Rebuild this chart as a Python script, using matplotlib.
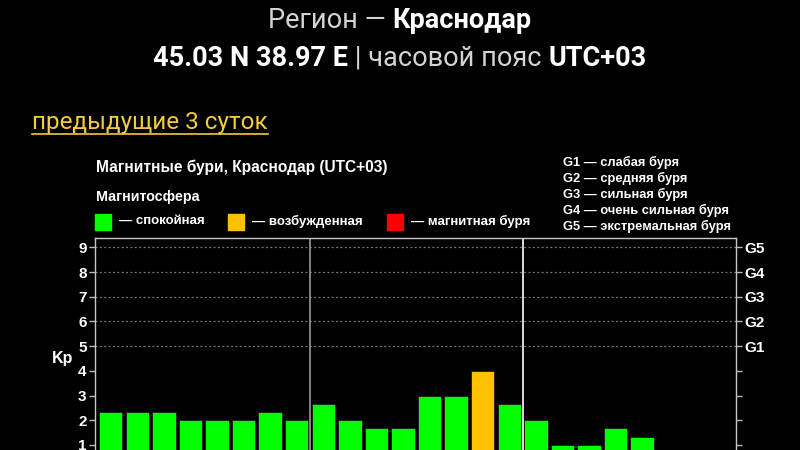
import matplotlib
matplotlib.use('Agg')
import matplotlib.pyplot as plt

# Kp по 3-часовым интервалам, 3 суток
kp = [2.33, 2.33, 2.33, 2.0, 2.0, 2.0, 2.33, 2.0,
      2.67, 2.0, 1.67, 1.67, 3.0, 3.0, 4.0, 2.67,
      2.0, 1.0, 1.0, 1.67, 1.33]
kp_ticks = [1, 2, 3, 4, 5, 6, 7, 8, 9]
g_ticks = [5, 6, 7, 8, 9]
g_labels = ['G1', 'G2', 'G3', 'G4', 'G5']
g_text = ['G1 — слабая буря', 'G2 — средняя буря', 'G3 — сильная буря',
          'G4 — очень сильная буря', 'G5 — экстремальная буря']
legend_labels = ['— спокойная', '— возбужденная', '— магнитная буря']
legend_colors = ['#00ff00', '#ffc000', '#ff0000']


def color_for(v):
    if v < 4:
        return legend_colors[0]
    if v < 5:
        return legend_colors[1]
    return legend_colors[2]


W, H = 800, 450
fig = plt.figure(figsize=(8, 4.5), dpi=100, facecolor='black')
renderer = fig.canvas.get_renderer()


def px(x, y):
    return x / W, 1 - y / H


def rich_line(parts, y, fontsize, family):
    # parts: (text, weight, color); центрируем всю строку
    texts = []
    for s, w, c in parts:
        t = fig.text(0, 0, s, fontsize=fontsize, fontweight=w, color=c,
                     family=family, va='center', ha='left')
        texts.append(t)
    widths = [t.get_window_extent(renderer).width for t in texts]
    x = (W - sum(widths)) / 2
    for t, wd in zip(texts, widths):
        t.set_position(px(x, y))
        x += wd


rich_line([('Регион — ', 'normal', '#d4d4d4'), ('Краснодар', 'bold', 'white')],
          21, 19.5, 'Roboto')
rich_line([('45.03 N 38.97 E', 'bold', 'white'), (' | часовой пояс ', 'normal', '#d4d4d4'),
           ('UTC+03', 'bold', 'white')], 58, 19.5, 'Roboto')

link = fig.text(*px(32, 122), 'предыдущие 3 суток', fontsize=17.5, color='#f0cd3c',
                family='Roboto', va='center', ha='left')
bb = link.get_window_extent(renderer)
fig.add_artist(plt.Line2D([bb.x0 / W, bb.x1 / W], [1 - 134 / H] * 2,
                          color='#f0cd3c', lw=1.2))

font = 'Liberation Sans'
fig.text(*px(96, 167), 'Магнитные бури, Краснодар (UTC+03)', fontsize=11.2,
         fontweight='bold', color='white', family=font, va='center')
fig.text(*px(96, 197), 'Магнитосфера', fontsize=10.3, fontweight='bold',
         color='white', family=font, va='center')
for xs, lab, col in zip([95, 228, 387], legend_labels, legend_colors):
    fig.add_artist(plt.Rectangle(px(xs, 230), 16 / W, 16 / H, color=col,
                                 transform=fig.transFigure))
    fig.text(*px(xs + 24, 221), lab, fontsize=9.5, fontweight='bold',
             color='white', family=font, va='center')
for i, s in enumerate(g_text):
    fig.text(*px(563, 162 + 16 * i), s, fontsize=9.3, fontweight='bold',
             color='white', family=font, va='center')

# оси: низ уходит за край картинки
ax = fig.add_axes([95 / W, 1 - 469.7 / H, 641 / W, (469.7 - 238) / H])
ax.set_facecolor('black')
x = list(range(len(kp)))
ax.bar(x, kp, width=0.88, color=[color_for(v) for v in kp],
       edgecolor='#1a1a1a', linewidth=0.6, zorder=3)
ax.set_xlim(-0.59, 23.53)
ax.set_ylim(0, 9.38)
for g in g_ticks:
    ax.axhline(g, color='#7a7a7a', lw=0.9, ls=(0, (1.5, 2)), zorder=1)
ax.axvline(7.5, color='#9a9a9a', lw=1.2, zorder=2)
ax.axvline(15.5, color='white', lw=1.2, zorder=2)

ax.set_xticks([])
ax.set_yticks(kp_ticks)
ax.set_yticklabels([str(k) for k in kp_ticks], fontsize=11, fontweight='bold',
                   color='white', family=font)
ax.tick_params(axis='y', colors='#bbbbbb', length=4, width=1, pad=2, labelcolor='white')
for s in ax.spines.values():
    s.set_color('#c8c8c8')
    s.set_linewidth(1)

ax2 = ax.twinx()
ax2.set_ylim(0, 9.38)
ax2.set_yticks(kp_ticks)
ax2.set_yticklabels(['' if k < 5 else g_labels[k - 5] for k in kp_ticks],
                    fontsize=11, fontweight='bold', color='white', family=font)
ax2.tick_params(axis='y', colors='#bbbbbb', length=4, width=1, pad=2, labelcolor='white')
for s in ax2.spines.values():
    s.set_visible(False)

fig.text(*px(52, 359), 'Kp', fontsize=11.5, fontweight='bold', color='white',
         family=font, va='center')

fig.savefig('out.png', dpi=100, facecolor='black')
